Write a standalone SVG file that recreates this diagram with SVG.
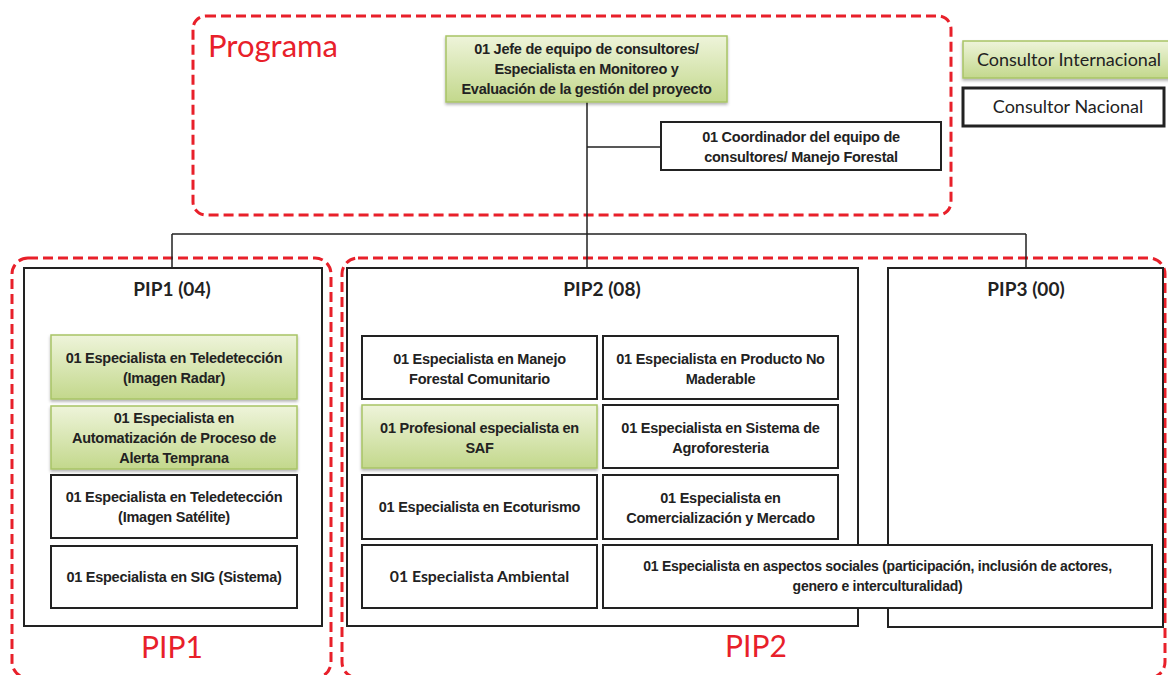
<svg xmlns="http://www.w3.org/2000/svg" width="1168" height="675" viewBox="0 0 1168 675">
<style>
.zone{fill:none;stroke:#e8202a;stroke-width:3;stroke-dasharray:10,5}
.zlabel{font-family:Lato,"Open Sans",sans-serif;font-size:30px;fill:#e8202a}
.pip{fill:#fff;stroke:#222;stroke-width:2}
.box{fill:#fff;stroke:#222;stroke-width:2}
.green{fill:url(#gr);stroke:#a8c466;stroke-width:1.5;filter:url(#sh)}
.t{font-family:"Liberation Sans",Arial,sans-serif;font-weight:bold;font-size:14.5px;letter-spacing:-0.25px;fill:#222;text-anchor:middle}
.title{font-family:Lato,"Open Sans",sans-serif;font-weight:bold;font-size:19px;fill:#222;text-anchor:middle}
.leg{font-family:Lato,"Open Sans",sans-serif;font-size:18px;fill:#222;text-anchor:middle}
.conn{fill:none;stroke:#222;stroke-width:1.5}
</style>
<defs>
<linearGradient id="gr" x1="0" y1="0" x2="0" y2="1">
<stop offset="0" stop-color="#eef4da"/>
<stop offset="1" stop-color="#c3d88c"/>
</linearGradient>
<filter id="sh" x="-5%" y="-10%" width="110%" height="130%">
<feDropShadow dx="0" dy="2" stdDeviation="1.5" flood-color="#000" flood-opacity="0.3"/>
</filter>
</defs>
<rect width="1168" height="675" fill="#fff"/>

<g id="zone-programa">
<rect class="zone" x="193" y="16" width="758" height="199" rx="13"/>
<text class="zlabel" x="208" y="57" style="font-size:31px">Programa</text>
</g>
<g id="zone-pip1">
<rect class="zone" x="12" y="258" width="319" height="420" rx="16"/>
<text class="zlabel" x="172" y="658" text-anchor="middle">PIP1</text>
</g>
<g id="zone-pip2">
<rect class="zone" x="342" y="258" width="823" height="420" rx="16"/>
<text class="zlabel" x="756" y="657" text-anchor="middle">PIP2</text>
</g>

<g id="connectors">
<path class="conn" d="M587 102 V234 M587 147 H661 M172 234 H1026 M172 234 V268 M587 234 V268 M1026 234 V268"/>
</g>

<g id="legend-internacional">
<rect class="green" x="963" y="41" width="215" height="37"/>
<text class="leg" x="1069" y="66">Consultor Internacional</text>
</g>
<g id="legend-nacional">
<rect class="box" x="963" y="88" width="201" height="38" style="stroke-width:3"/>
<text class="leg" x="1068" y="113">Consultor Nacional</text>
</g>

<g id="jefe">
<rect class="green" x="446" y="36" width="281" height="66"/>
<text class="t" x="586.5" y="54">01 Jefe de equipo de consultores/</text>
<text class="t" x="586.5" y="74">Especialista en Monitoreo y</text>
<text class="t" x="586.5" y="94">Evaluación de la gestión del proyecto</text>
</g>
<g id="coordinador">
<rect class="box" x="661" y="122" width="280" height="48"/>
<text class="t" x="801" y="142">01 Coordinador del equipo de</text>
<text class="t" x="801" y="162">consultores/ Manejo Forestal</text>
</g>

<g id="pip1">
<rect class="pip" x="24" y="268" width="298" height="358"/>
<text class="title" x="172" y="296">PIP1 (04)</text>
</g>
<g id="pip1-radar">
<rect class="green" x="51" y="335" width="246" height="64"/>
<text class="t" x="174" y="363">01 Especialista en Teledetección</text>
<text class="t" x="174" y="383">(Imagen Radar)</text>
</g>
<g id="pip1-alerta">
<rect class="green" x="51" y="406" width="246" height="63"/>
<text class="t" x="174" y="423">01 Especialista en</text>
<text class="t" x="174" y="443">Automatización de Proceso de</text>
<text class="t" x="174" y="463">Alerta Temprana</text>
</g>
<g id="pip1-satelite">
<rect class="box" x="51" y="475" width="246" height="63"/>
<text class="t" x="174" y="502">01 Especialista en Teledetección</text>
<text class="t" x="174" y="522">(Imagen Satélite)</text>
</g>
<g id="pip1-sig">
<rect class="box" x="51" y="546" width="246" height="62"/>
<text class="t" x="174" y="582">01 Especialista en SIG (Sistema)</text>
</g>

<g id="pip2">
<rect class="pip" x="347" y="268" width="511" height="358"/>
<text class="title" x="602" y="296">PIP2 (08)</text>
</g>
<g id="pip3">
<rect class="pip" x="888" y="268" width="275" height="359"/>
<text class="title" x="1026" y="296">PIP3 (00)</text>
</g>

<g id="pip2-manejo">
<rect class="box" x="362" y="336" width="235" height="63"/>
<text class="t" x="479.5" y="364">01 Especialista en Manejo</text>
<text class="t" x="479.5" y="384">Forestal Comunitario</text>
</g>
<g id="pip2-producto">
<rect class="box" x="603" y="336" width="235" height="63"/>
<text class="t" x="720.5" y="364">01 Especialista en Producto No</text>
<text class="t" x="720.5" y="384">Maderable</text>
</g>
<g id="pip2-saf">
<rect class="green" x="362" y="405" width="235" height="63"/>
<text class="t" x="479.5" y="433">01 Profesional especialista en</text>
<text class="t" x="479.5" y="453">SAF</text>
</g>
<g id="pip2-agroforesteria">
<rect class="box" x="603" y="405" width="235" height="63"/>
<text class="t" x="720.5" y="433">01 Especialista en Sistema de</text>
<text class="t" x="720.5" y="453">Agroforesteria</text>
</g>
<g id="pip2-ecoturismo">
<rect class="box" x="362" y="475" width="235" height="64"/>
<text class="t" x="479.5" y="512">01 Especialista en Ecoturismo</text>
</g>
<g id="pip2-comercializacion">
<rect class="box" x="603" y="475" width="235" height="64"/>
<text class="t" x="720.5" y="503">01 Especialista en</text>
<text class="t" x="720.5" y="523">Comercialización y Mercado</text>
</g>
<g id="pip2-ambiental">
<rect class="box" x="362" y="545" width="235" height="63"/>
<text class="t" x="479.5" y="582" style="font-family:Lato,'Open Sans',sans-serif;font-size:15.8px;letter-spacing:0">01 Especialista Ambiental</text>
</g>
<g id="pip2-sociales">
<rect class="box" x="603" y="545" width="549" height="63"/>
<text class="t" x="877.5" y="571" style="font-size:14px">01 Especialista en aspectos sociales (participación, inclusión de actores,</text>
<text class="t" x="877.5" y="591" style="font-size:14px">genero e interculturalidad)</text>
</g>
</svg>
